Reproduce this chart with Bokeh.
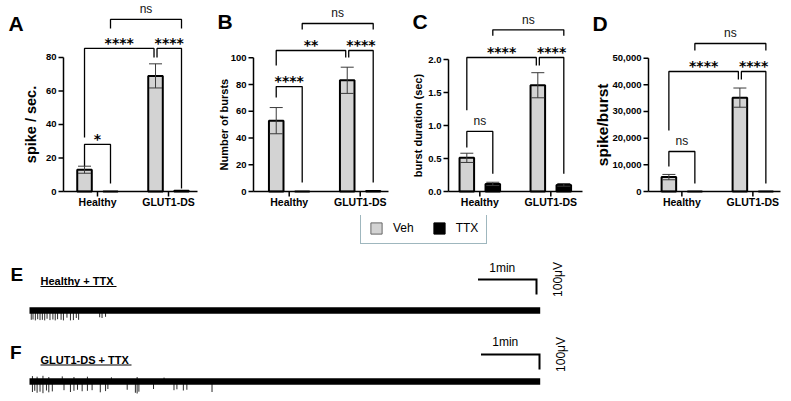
import math
from bokeh.plotting import figure
from bokeh.layouts import column, row
from bokeh.models import ColumnDataSource, Range1d, Whisker, TeeHead, Legend, LegendItem
from bokeh.core.properties import value
from bokeh.embed import file_html
from bokeh.resources import INLINE

# ------------------------------------------------------------------ data
groups = ["Healthy", "GLUT1-DS"]
treatments = ["Veh", "TTX"]

# A: firing rate (spikes / s), mean and SEM
spike_rate_veh = [13.0, 69.0]
spike_rate_veh_sem = [2.1, 7.2]
spike_rate_ttx = [0.05, 0.4]
spike_rate_ttx_sem = [0.0, 0.0]

# B: number of bursts
bursts_veh = [53.0, 83.2]
bursts_veh_sem = [9.8, 9.8]
bursts_ttx = [0.05, 0.4]
bursts_ttx_sem = [0.0, 0.0]

# C: burst duration (s)
duration_veh = [0.51, 1.61]
duration_veh_sem = [0.07, 0.19]
duration_ttx = [0.115, 0.10]
duration_ttx_sem = [0.025, 0.02]

# D: spikes per burst
spb_veh = [5400, 35200]
spb_veh_sem = [1000, 3600]
spb_ttx = [20, 20]
spb_ttx_sem = [0, 0]

# significance brackets: (bar, bar, label, bracket level, foot at first bar, foot at second bar)
brackets_a = [("H-TTX", "G-TTX", "ns", 102.7, 97.3, 97.3),
              ("H-Veh", "G-Veh", "****", 85.4, 32.2, 80.0),
              ("G-Veh", "G-TTX", "****", 85.4, 80.0, 1.8),
              ("H-Veh", "H-TTX", "*", 28.1, 14.9, 4.8)]
brackets_b = [("H-TTX", "G-TTX", "ns", 125.7, 121.2, 121.2),
              ("H-Veh", "G-Veh", "**", 105.5, 94.2, 100.2),
              ("G-Veh", "G-TTX", "****", 105.5, 100.2, 6.7),
              ("H-Veh", "H-TTX", "****", 78.5, 70.3, 6.7)]
brackets_c = [("H-TTX", "G-TTX", "ns", 2.45, 2.36, 2.36),
              ("H-Veh", "G-Veh", "****", 2.03, 1.23, 1.91),
              ("G-Veh", "G-TTX", "****", 2.03, 1.91, 0.27),
              ("H-Veh", "H-TTX", "ns", 0.91, 0.667, 0.27)]
brackets_d = [("H-TTX", "G-TTX", "ns", 55500, 52870, 52870),
              ("H-Veh", "G-Veh", "****", 45000, 22870, 42000),
              ("G-Veh", "G-TTX", "****", 45000, 42000, 3000),
              ("H-Veh", "H-TTX", "ns", 15000, 9370, 3000)]

# E / F: MEA raw traces under TTX (time in min, amplitude in uV)
recording_min = 8.73
healthy_noise_uv = 21
healthy_spike_min = [0.03, 0.06, 0.10, 0.14, 0.18, 0.22, 0.26, 0.30, 0.35, 0.40, 0.44,
                     0.48, 0.54, 0.58, 0.64, 0.70, 0.75, 0.80, 0.84, 1.20, 1.24, 1.30]
healthy_spike_uv = [-62, -60, -66, -58, -64, -62, -66, -55, -64, -60, -66,
                    -58, -62, -66, -48, -66, -64, -50, -62, -45, -50, -42]
glut1_noise_uv = 22
glut1_spike_min = [0.05, 0.09, 0.13, 0.18, 0.23, 0.29, 0.33, 0.39, 0.59, 0.70, 0.76, 0.82,
                   0.90, 0.99, 1.07, 1.21, 1.30, 1.34, 1.67, 1.81, 1.84, 1.87, 2.12, 2.47,
                   2.52, 2.63, 2.69, 3.12]
glut1_spike_uv = [-70, -62, -75, -68, -78, -60, -72, -66, -58, -70, -62, -55,
                  -65, -62, -58, -72, -64, -50, -55, -75, -80, -68, -50, -58,
                  -52, -60, -55, -70]
glut1_up_min = [0.05, 0.13, 0.23, 0.33, 0.56, 0.76, 0.99, 1.40, 1.84, 2.30]
glut1_up_uv = [36, 32, 38, 30, 34, 30, 32, 28, 30, 26]

# ------------------------------------------------------------------ style
FONT = "Liberation Sans"
STAR_FONT = "DejaVu Sans"
VEH_COLOR = "#d3d3d3"
TTX_COLOR = "#000000"
ERR_COLOR = "#3a3a3a"
BAR_OFFSET = 0.183
BAR_WIDTH = 0.205
PX_PER_GROUP = 71.0
ZERO_PX = 191          # canvas row of the zero line in the bar panels
TOP_H = 215
TICK_PX = 5


def bar_x(key):
    g, t = key.split("-")
    base = 1 if g == "H" else 2
    return base + (-BAR_OFFSET if t == "Veh" else BAR_OFFSET)


def make_panel(letter, letter_px, veh, veh_sem, ttx, ttx_sem, ticks, tick_fmt, ylabel,
               ylabel_size, ylabel_gap, brackets, y_top, width, axis_px, axis_len, x_start):
    x_lo = x_start - axis_px / PX_PER_GROUP
    x_hi = x_start + (width - axis_px) / PX_PER_GROUP
    px_per_y = ZERO_PX / y_top
    y_lo = -(TOP_H - ZERO_PX) / px_per_y
    p = figure(width=width, height=TOP_H, output_backend="svg", toolbar_location=None,
               x_range=Range1d(x_lo, x_hi), y_range=Range1d(y_lo, y_top), title=None,
               x_axis_location=None, y_axis_location=None,
               min_border_left=0, min_border_right=0, min_border_top=0, min_border_bottom=0)
    p.outline_line_color = None
    p.grid.visible = False
    p.background_fill_color = "white"

    xs_veh = [g + 1 - BAR_OFFSET for g in range(len(groups))]
    xs_ttx = [g + 1 + BAR_OFFSET for g in range(len(groups))]
    p.vbar(x=xs_veh, top=veh, width=BAR_WIDTH, bottom=0, fill_color=VEH_COLOR,
           line_color="black", line_width=2)
    p.vbar(x=xs_ttx, top=ttx, width=BAR_WIDTH, bottom=0, fill_color=TTX_COLOR,
           line_color="black", line_width=2)

    ex, eu, el = [], [], []
    for xs, m, s in ((xs_veh, veh, veh_sem), (xs_ttx, ttx, ttx_sem)):
        for xi, mi, si in zip(xs, m, s):
            if si > 0:
                ex.append(xi)
                eu.append(mi + si)
                el.append(mi - si)
    err = ColumnDataSource(dict(x=ex, upper=eu, lower=el))
    p.add_layout(Whisker(source=err, base="x", upper="upper", lower="lower",
                         line_color=ERR_COLOR, line_width=1, level="annotation",
                         upper_head=TeeHead(size=13, line_color=ERR_COLOR, line_width=1),
                         lower_head=TeeHead(size=13, line_color=ERR_COLOR, line_width=1)))

    # comparison brackets
    nudge = 1.5 / PX_PER_GROUP
    bxs, bys = [], []
    star_x, star_y, star_t = [], [], []
    ns_x, ns_y = [], []
    for a, b, lab, level, fa, fb in brackets:
        xa, xb = bar_x(a), bar_x(b)
        if a == "G-Veh":
            xa += nudge
        if b == "G-Veh":
            xb -= nudge
        bxs.append([xa, xa, xb, xb])
        bys.append([fa, level, level, fb])
        if lab == "ns":
            ns_x.append((xa + xb) / 2)
            ns_y.append(level)
        else:
            star_x.append((xa + xb) / 2)
            star_y.append(level)
            star_t.append(lab)
    p.multi_line(xs=bxs, ys=bys, line_color="black", line_width=1.3)
    if star_t:
        p.text(x=star_x, y=star_y, text=star_t, text_font=value(STAR_FONT),
               text_font_style="bold", text_font_size="14px", text_align="center",
               text_baseline="middle", y_offset=-5.5, text_color="black")
    if ns_x:
        p.text(x=ns_x, y=ns_y, text=["ns"] * len(ns_x), text_font=value(FONT),
               text_font_size="12px", text_align="center", text_baseline="middle",
               y_offset=-10, text_color="#111111")

    # category axis along the zero line
    x_end = x_start + axis_len / PX_PER_GROUP
    cats = [1, 2]
    p.segment(x0=[x_start], y0=[0], x1=[x_end], y1=[0], line_color="black", line_width=1.5)
    p.segment(x0=cats, y0=[0, 0], x1=cats, y1=[-TICK_PX / px_per_y] * 2,
              line_color="black", line_width=1.5)
    p.text(x=cats, y=[0, 0], text=groups, text_font=value(FONT), text_font_style="bold",
           text_font_size="10.5px", text_align="center", text_baseline="middle",
           y_offset=10.5, text_color="black")

    # value axis, drawn on the panel's own y scale
    tick_len = TICK_PX / PX_PER_GROUP
    p.segment(x0=[x_start], y0=[ticks[0]], x1=[x_start], y1=[ticks[-1]],
              line_color="black", line_width=1.5)
    p.segment(x0=[x_start - tick_len] * len(ticks), y0=ticks, x1=[x_start] * len(ticks),
              y1=ticks, line_color="black", line_width=1.5)
    p.text(x=[x_start] * len(ticks), y=ticks, text=[tick_fmt(t) for t in ticks],
           text_font=value(FONT), text_font_style="bold", text_font_size="9.5px",
           text_align="right", text_baseline="middle", x_offset=-7, text_color="black")
    p.text(x=[x_start], y=[(ticks[0] + ticks[-1]) / 2], text=[ylabel], angle=math.pi / 2,
           text_font=value(FONT), text_font_style="bold", text_font_size=ylabel_size,
           text_align="center", text_baseline="middle", x_offset=-ylabel_gap,
           text_color="black")

    # panel letter
    lx, ly = letter_px
    p.text(x=[x_lo + lx / PX_PER_GROUP], y=[(ZERO_PX - ly) / px_per_y], text=[letter],
           text_font=value(FONT), text_font_style="bold", text_font_size="21px",
           text_align="left", text_baseline="middle", text_color="black")
    return p


pa = make_panel("A", (8, 22.5), spike_rate_veh, spike_rate_veh_sem, spike_rate_ttx,
                spike_rate_ttx_sem, [0, 20, 40, 60, 80], lambda v: f"{v:g}",
                "spike / sec.", "14.5px", 33, brackets_a, 114.0, 203, 63, 134, 0.521)
pb = make_panel("B", (14, 21), bursts_veh, bursts_veh_sem, bursts_ttx, bursts_ttx_sem,
                [0, 20, 40, 60, 80, 100], lambda v: f"{v:g}",
                "Number of bursts", "11px", 30, brackets_b, 142.9, 197, 50, 135, 0.497)
pc = make_panel("C", (12, 21), duration_veh, duration_veh_sem, duration_ttx,
                duration_ttx_sem, [0, 0.5, 1.0, 1.5, 2.0], lambda v: f"{v:.1f}",
                "burst duration (sec)", "11px", 31, brackets_c, 2.894, 190, 48, 134, 0.559)
pd_ = make_panel("D", (2, 22.5), spb_veh, spb_veh_sem, spb_ttx, spb_ttx_sem,
                 [0, 10000, 20000, 30000, 40000, 50000], lambda v: f"{v:,.0f}",
                 "spike/burst", "15.5px", 46, brackets_d, 71620, 201, 58, 132, 0.530)

# ------------------------------------------------------------------ traces
BOT_H = 401 - TOP_H
PX_PER_MIN = 58.5
UV_PER_PX = 100.0 / 15.0
X0_PX = 29.0


def t_at(px):
    return (px - X0_PX) / PX_PER_MIN


def uv_at(py):
    return (401 - py) * UV_PER_PX


bot = figure(width=791, height=BOT_H, output_backend="svg", toolbar_location=None,
             x_range=Range1d(t_at(0), t_at(791)), y_range=Range1d(uv_at(401), uv_at(TOP_H)),
             x_axis_location=None, y_axis_location=None, title=None,
             min_border_left=0, min_border_right=0, min_border_top=0, min_border_bottom=0)
bot.outline_line_color = None
bot.grid.visible = False

traces = [
    (uv_at(310), healthy_noise_uv, healthy_spike_min, healthy_spike_uv, [], []),
    (uv_at(381), glut1_noise_uv, glut1_spike_min, glut1_spike_uv, glut1_up_min, glut1_up_uv),
]
for base, noise, st, sa, ut, ua in traces:
    bot.segment(x0=st, y0=[base] * len(st), x1=st, y1=[base + a for a in sa],
                line_color="#2a2a2a", line_width=1)
    if ut:
        bot.segment(x0=ut, y0=[base] * len(ut), x1=ut, y1=[base + a for a in ua],
                    line_color="#2a2a2a", line_width=1)
    bot.quad(left=[0], right=[recording_min], bottom=[base - noise], top=[base + noise],
             fill_color="black", line_color=None)

# scale bars: 1 min horizontal, 100 uV vertical
for t_end, y_bar, lift in ((t_at(536), uv_at(279), 12), (t_at(539), uv_at(354), 13)):
    bot.line(x=[t_end - 1.0, t_end, t_end], y=[y_bar, y_bar, y_bar - 100.0],
             line_color="black", line_width=2, line_join="miter")
    bot.text(x=[t_end - 0.5], y=[y_bar], text=["1min"], text_font=value(FONT),
             text_font_size="12px", text_align="center", text_baseline="middle",
             x_offset=-5, y_offset=-lift, text_color="black")
    bot.text(x=[t_end + 21 / PX_PER_MIN], y=[y_bar], text=["100μV"], text_font=value(FONT),
             text_font_size="12px", text_align="center", text_baseline="middle",
             angle=math.pi / 2, text_color="black")

# panel letters and underlined trace titles
bot.text(x=[t_at(10), t_at(9.5)], y=[uv_at(273.5), uv_at(351.5)], text=["E", "F"],
         text_font=value(FONT), text_font_style="bold", text_font_size="19px",
         text_align="left", text_baseline="middle", text_color="black")
for title, ty, right_px in (("Healthy + TTX", 280.5, 116), ("GLUT1-DS + TTX", 359, 131)):
    bot.text(x=[t_at(40)], y=[uv_at(ty)], text=[title], text_font=value(FONT),
             text_font_style="bold", text_font_size="11px", text_align="left",
             text_baseline="middle", text_color="black")
    bot.segment(x0=[t_at(40)], y0=[uv_at(ty + 5.5)], x1=[t_at(right_px)],
                y1=[uv_at(ty + 5.5)], line_color="black", line_width=1.2)

# treatment legend (swatch renderers sit outside the visible time window)
veh_proxy = bot.vbar(x=[-50], top=[0], width=0.1, fill_color=VEH_COLOR,
                     line_color="#666666", line_width=1)
ttx_proxy = bot.vbar(x=[-50], top=[0], width=0.1, fill_color=TTX_COLOR,
                     line_color="black", line_width=1)
legend = Legend(items=[LegendItem(label=treatments[0], renderers=[veh_proxy]),
                       LegendItem(label=treatments[1], renderers=[ttx_proxy])],
                orientation="horizontal", location=(360, 401 - 244), margin=0,
                padding=8, spacing=18, label_standoff=10, glyph_width=14, glyph_height=14,
                label_height=14, label_width=10, label_text_font=FONT,
                label_text_font_size="12px", label_text_color="black",
                border_line_color="#3f6f7e", border_line_width=1.5,
                background_fill_color="white", background_fill_alpha=1.0)
bot.add_layout(legend)

layout = column(row(pa, pb, pc, pd_), bot)
open("out.html", "w").write(file_html(layout, INLINE))
